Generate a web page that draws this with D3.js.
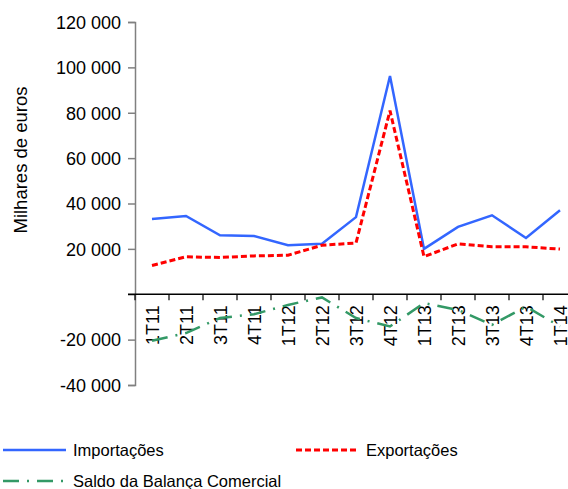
<!DOCTYPE html>
<html>
<head>
<meta charset="utf-8">
<script src="https://cdn.jsdelivr.net/npm/d3@7"></script>
<style>
  body { margin: 0; background: #fff; }
  svg text { font-family: "Liberation Sans", Arial, sans-serif; fill: #000; }
</style>
</head>
<body>
<div id="chart"></div>
<script>
const quarters = ["1T11","2T11","3T11","4T11","1T12","2T12","3T12","4T12","1T13","2T13","3T13","4T13","1T14"];
const importacoes = [33200, 34500, 26000, 25700, 21600, 22300, 34000, 96200, 20000, 29700, 34800, 24800, 37000];
const exportacoes = [12700, 16500, 16200, 16900, 17200, 21600, 22600, 80900, 16600, 22200, 20900, 20900, 19900];
const saldo = [-20500, -17100, -10500, -8800, -4700, -1400, -10500, -14200, -3900, -6900, -13500, -5400, -14200];
const yTicks = [-40000, -20000, 0, 20000, 40000, 60000, 80000, 100000, 120000];

const width = 568, height = 489;
const svg = d3.select("#chart").append("svg").attr("width", width).attr("height", height);

const x = d3.scaleBand().domain(quarters).range([135, 577]);
const y = d3.scaleLinear().domain([-40000, 120000]).range([385, 22]);

// "120 000" style, hyphen minus, no label at zero
const fmt = d => d === 0 ? "" : d3.format(",")(Math.abs(d)).replace(/,/g, " ").replace(/^/, d < 0 ? "-" : "");

// y axis
const yAxis = svg.append("g").attr("transform", "translate(135,0)")
  .call(d3.axisLeft(y).tickValues(yTicks).tickSize(7).tickPadding(7).tickFormat(fmt));
yAxis.select(".domain").attr("stroke", "#808080").attr("stroke-width", 1.5);
yAxis.selectAll(".tick line").attr("stroke", "#808080").attr("stroke-width", 1.5);
yAxis.selectAll(".tick text").style("font-size", "18px").attr("dy", "0.35em");

// x axis at zero
const xAxis = svg.append("g").attr("transform", "translate(0," + y(0) + ")")
  .call(d3.axisBottom(x).tickSize(0).tickFormat(""));
xAxis.select(".domain").attr("d", "M128,0H" + width).attr("stroke", "#000").attr("stroke-width", 1.5);
xAxis.selectAll(".tick").remove();
// tick marks on band boundaries
xAxis.selectAll("line.bound")
  .data(quarters)
  .enter().append("line")
  .attr("class", "bound")
  .attr("x1", d => x(d)).attr("x2", d => x(d))
  .attr("y1", 0).attr("y2", 6)
  .attr("stroke", "#000").attr("stroke-width", 1.2);

// x labels (rotated)
svg.append("g").selectAll("text")
  .data(quarters)
  .enter().append("text")
  .attr("transform", d => "translate(" + (x(d) + x.bandwidth() / 2 + 6.5) + "," + (y(0) + 11) + ") rotate(-90)")
  .attr("text-anchor", "end")
  .style("font-size", "18px")
  .text(d => d);

// y label
svg.append("text")
  .attr("transform", "translate(27,160) rotate(-90)")
  .attr("text-anchor", "middle")
  .style("font-size", "18.5px")
  .text("Milhares de euros");

const line = d3.line()
  .x((d, i) => x(quarters[i]) + x.bandwidth() / 2)
  .y(d => y(d));

const series = [
  { name: "Importações", values: importacoes, color: "#3366ff", dash: null, w: 2.5 },
  { name: "Exportações", values: exportacoes, color: "#ff0000", dash: "6,3", w: 3 },
  { name: "Saldo da Balança Comercial", values: saldo, color: "#339966", dash: "16,8,2,8", w: 2.5 }
];

svg.append("g").selectAll("path")
  .data(series)
  .enter().append("path")
  .attr("d", d => line(d.values))
  .attr("fill", "none")
  .attr("stroke", d => d.color)
  .attr("stroke-width", d => d.w)
  .attr("stroke-dasharray", d => d.dash);

// legend
const legendPos = [[3, 450], [296, 450], [3, 481]];
const lg = svg.append("g").selectAll("g")
  .data(series)
  .enter().append("g")
  .attr("transform", (d, i) => "translate(" + legendPos[i][0] + "," + legendPos[i][1] + ")");
lg.append("line")
  .attr("x1", 0).attr("x2", 63).attr("y1", 0).attr("y2", 0)
  .attr("stroke", d => d.color)
  .attr("stroke-width", d => d.w)
  .attr("stroke-dasharray", d => d.dash);
lg.append("text")
  .attr("x", 70).attr("dy", "0.35em")
  .style("font-size", "16.5px")
  .text(d => d.name);
</script>
</body>
</html>
